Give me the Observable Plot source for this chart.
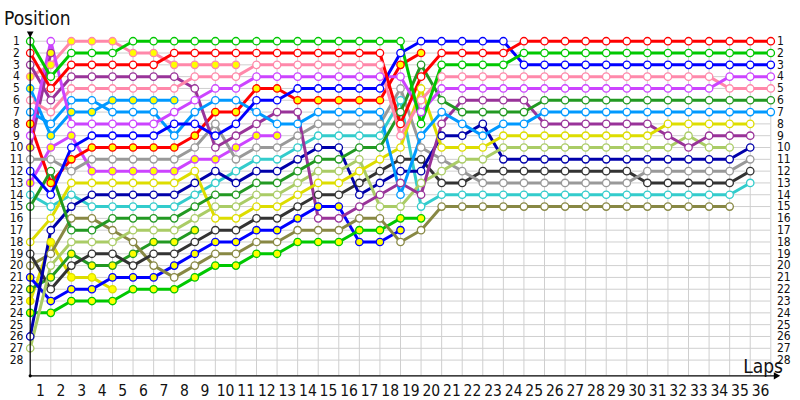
<!DOCTYPE html>
<html><head><meta charset="utf-8">
<script src="https://cdn.jsdelivr.net/npm/d3@7"></script>
<script src="https://cdn.jsdelivr.net/npm/@observablehq/plot@0.6"></script>
<style>html,body{margin:0;padding:0;background:#fff}svg{display:block}</style>
</head><body><div id="chart"></div>
<script>
// Lap numbers and grid positions
const laps = d3.range(1, 37);
const positions = d3.range(1, 29);

// Position of each car at the end of each lap (index = lap, 0 = grid)
const GW  = [1,4,2,2,2,1,1,1,1,1, 1,1,1,1,1,1,1,1,1,8, 3,3,3,3,2,2,2,2,2,2, 2,2,2,2,2,2,2];
const RW  = [2,5,3,3,3,3,3,2,2,2, 2,2,2,2,2,2,2,2,8,4, 2,2,2,2,1,1,1,1,1,1, 1,1,1,1,1,1,1];
const BW  = [12,14,10,9,9,9,9,8,8,9, 8,6,6,5,5,5,5,5,2,1, 1,1,1,1,3,3,3,3,3,3, 3,3,3,3,3,3,3];
const VW  = [9,1,8,8,8,8,8,7,6,5, 5,4,4,4,4,4,4,4,4,7, 5,5,5,5,5,5,5,5,5,5, 5,5,5,5,4,4,4];
const PkW = [6,7,5,5,5,5,5,5,4,4, 4,3,3,3,3,3,3,3,9,6, 4,4,4,4,4,4,4,4,4,4, 4,4,4,4,5,5,5];
const DgW = [15,12,17,17,16,16,16,16,15,14, 14,13,13,12,11,11,10,10,7,3, 6,7,7,7,7,6,6,6,6,6, 6,6,6,6,6,6,6];
const SkW = [7,8,6,6,7,7,7,9,7,6, 6,7,8,8,7,7,7,7,14,9, 7,8,9,8,8,7,7,7,7,7, 7,7,7,7,7,7,7];
const YW  = [18,16,13,13,13,13,13,13,12,16, 16,15,15,14,13,13,12,11,10,5, 10,10,10,9,9,9,9,9,9,9, 9,8,8,8,8,8];
const PlW = [3,6,4,4,4,4,4,4,5,10, 9,8,7,7,16,16,15,14,13,14, 8,6,6,6,6,8,8,8,8,8, 8,9,10,9,9,9];
const LgW = [27,20,18,18,18,17,17,17,16,15, 15,14,14,13,12,12,11,15,15,13, 12,11,11,10,10,10,10,10,10,10, 10,10,9,10,10];
const NW  = [26,17,15,14,14,14,14,14,13,12, 13,12,12,11,10,10,14,13,12,12, 9,9,8,11,11,11,11,11,11,11, 11,11,11,11,11,10];
const GrW = [11,11,12,11,11,11,11,11,10,8, 11,10,10,9,8,8,8,8,5,10, 11,12,13,13,13,13,13,13,13,13, 12,12,12,12,12,11];
const DkW = [19,22,20,19,19,20,19,19,18,17, 17,16,16,15,14,14,13,12,11,11, 13,13,12,12,12,12,12,12,12,12, 13,13,13,13,13,12];
const CW  = [14,15,14,15,15,15,15,15,14,13, 12,11,11,10,9,9,9,9,6,15, 14,14,14,14,14,14,14,14,14,14, 14,14,14,14,14,13];
const OlW = [20,19,16,16,17,18,20,21,20,19, 19,18,18,17,17,17,16,16,18,17, 15,15,15,15,15,15,15,15,15,15, 15,15,15,15,15];
const RY  = [8,13,11,10,10,10,10,10,9,7, 7,5,5,6,6,6,6,6,3,2];
const GY  = [24,24,23,23,23,22,22,22,21,20, 20,19,19,18,18,18,17,17,16,16];
const BY  = [21,23,22,22,21,21,21,20,19,18, 18,17,17,16,15,15,18,18,17];
const PkY = [4,3,1,1,1,2,2,3,3,3,3];
const VY  = [13,10,9,12,12,12,12,12,11,11, 10,9,9];
const SkY = [5,9,7,7,6,6,6,6];
const DgY = [22,21,19,20,20,19,18,18,17];
const YY  = [23,18,21,21,22];
const PlY = [10,2];

// Cars: name, series, line colour, marker fill
const cars = [
  ["PlY", PlY, "#993399", "#ffff00"], ["YY", YY, "#dddd00", "#ffff00"],
  ["DgY", DgY, "#229922", "#ffff00"], ["SkY", SkY, "#0099ff", "#ffff00"],
  ["VY", VY, "#cc44ff", "#ffff00"], ["PkY", PkY, "#ff88aa", "#ffff00"],
  ["BY", BY, "#0000ff", "#ffff00"], ["GY", GY, "#00c800", "#ffff00"],
  ["RY", RY, "#ff0000", "#ffff00"],
  ["OlW", OlW, "#888844", "#ffffff"], ["CW", CW, "#33cccc", "#ffffff"],
  ["DkW", DkW, "#333333", "#ffffff"], ["GrW", GrW, "#999999", "#ffffff"],
  ["NW", NW, "#0000aa", "#ffffff"], ["LgW", LgW, "#aacc66", "#ffffff"],
  ["PlW", PlW, "#993399", "#ffffff"], ["YW", YW, "#dddd00", "#ffffff"],
  ["SkW", SkW, "#0099ff", "#ffffff"], ["DgW", DgW, "#229922", "#ffffff"],
  ["PkW", PkW, "#ff88aa", "#ffffff"], ["VW", VW, "#cc44ff", "#ffffff"],
  ["BW", BW, "#0000ff", "#ffffff"], ["RW", RW, "#ff0000", "#ffffff"],
  ["GW", GW, "#00c800", "#ffffff"]
];

const rows = [];
for (const [name, series, color, fill] of cars) {
  series.forEach((p, lap) => { if (p != null) rows.push({car: name, lap, pos: p, color, fill}); });
}

const YB = 29.33;
const FONT = "DejaVu Sans Condensed, DejaVu Sans, sans-serif";

const chart = Plot.plot({
  width: 800, height: 400,
  marginLeft: 29.7, marginRight: 29.7, marginTop: 28.9, marginBottom: 24.7,
  x: {domain: [0, 36], axis: null},
  y: {domain: [YB, 0], axis: null},
  style: {fontFamily: FONT, background: "white", color: "black"},
  marks: [
    Plot.ruleY(positions, {x1: 0, x2: 36, stroke: "#cfcfcf", strokeWidth: 1}),
    Plot.ruleX(laps, {y1: 1, y2: YB, stroke: "#cfcfcf", strokeWidth: 1}),
    Plot.line(rows, {x: "lap", y: "pos", z: "car", stroke: "color", strokeWidth: 3, curve: "linear"}),
    Plot.dot(rows, {x: "lap", y: "pos", r: 3.7, fill: "fill", stroke: "color", strokeWidth: 1.3}),
    Plot.ruleX([0], {y1: YB, y2: 0.35, stroke: "black", strokeWidth: 1.2}),
    Plot.ruleY([YB], {x1: 0, x2: 36.2, stroke: "black", strokeWidth: 1.2}),
    Plot.dot([0], {x: 0, y: 0.35, symbol: "triangle2", rotate: 180, r: 3.2, fill: "black", stroke: "none"}),
    Plot.dot([0], {x: 36.25, y: YB, symbol: "triangle2", rotate: 90, r: 3.5, fill: "black", stroke: "none"}),
    Plot.dot([0], {x: 0, y: YB, r: 1.6, fill: "black"}),
    Plot.text(positions, {x: 0, y: d => d, text: d => String(d), dx: -13.7, textAnchor: "middle", fontSize: 12, fill: "#111"}),
    Plot.text(positions, {x: 36, y: d => d, text: d => String(d), dx: 6.2, textAnchor: "start", fontSize: 12, fill: "#111"}),
    Plot.text(laps, {x: d => d, y: YB, text: d => String(d), dx: -10.3, dy: 15.4, textAnchor: "middle", fontSize: 15.5, fill: "#111"})
  ]
});

const svg = d3.select(chart);
svg.append("text").attr("x", 4).attr("y", 25).attr("text-anchor", "start").attr("font-family", FONT).attr("font-size", 19).attr("fill", "#111").text("Position");
svg.append("text").attr("x", 783).attr("y", 373).attr("text-anchor", "end").attr("font-family", FONT).attr("font-size", 19).attr("fill", "#111").text("Laps");
document.getElementById("chart").appendChild(chart);
</script>
</body></html>
